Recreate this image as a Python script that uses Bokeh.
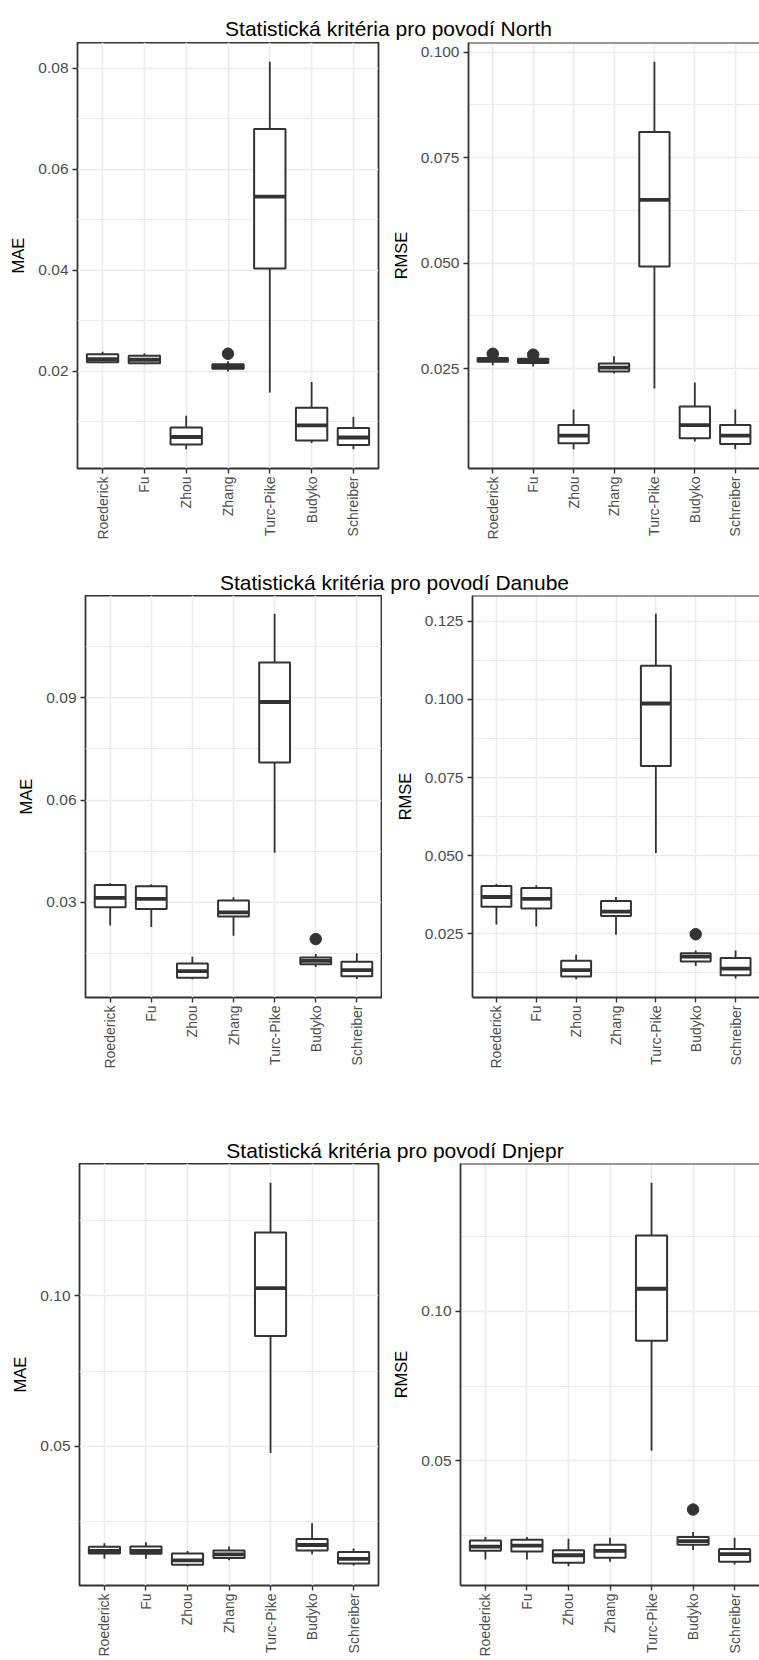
import math
import numpy as np
from bokeh.plotting import figure
from bokeh.layouts import column, row
from bokeh.models import (Range1d, FactorRange, FixedTicker, NumeralTickFormatter,
                          Span, Label, ColumnDataSource)
from bokeh.transform import dodge
from bokeh.embed import file_html
from bokeh.resources import INLINE

# ---------------- data ----------------
CATEGORIES = ["Roederick", "Fu", "Zhou", "Zhang", "Turc-Pike", "Budyko", "Schreiber"]

TITLES = ["Statistická kritéria pro povodí North",
          "Statistická kritéria pro povodí Danube",
          "Statistická kritéria pro povodí Dnjepr"]

# North - MAE
north_mae_lower = [0.0216, 0.0214, 0.0046, 0.0200, 0.0158, 0.0058, 0.0046]
north_mae_q1 = [0.0218, 0.0216, 0.0055, 0.0205, 0.0404, 0.0063, 0.0054]
north_mae_median = [0.0224, 0.0223, 0.0070, 0.0209, 0.0546, 0.0093, 0.0069]
north_mae_q3 = [0.0234, 0.0231, 0.0089, 0.0214, 0.0680, 0.0128, 0.0088]
north_mae_upper = [0.0239, 0.0236, 0.0112, 0.0220, 0.0813, 0.0179, 0.0110]
north_mae_out_cat = ["Zhang"]
north_mae_out_val = [0.0235]

# North - RMSE
north_rmse_lower = [0.0258, 0.0255, 0.0059, 0.0238, 0.0203, 0.0077, 0.0059]
north_rmse_q1 = [0.0266, 0.0263, 0.0073, 0.0243, 0.0492, 0.0085, 0.0071]
north_rmse_median = [0.0270, 0.0268, 0.0091, 0.0252, 0.0650, 0.0116, 0.0091]
north_rmse_q3 = [0.0275, 0.0273, 0.0116, 0.0262, 0.0811, 0.0160, 0.0116]
north_rmse_upper = [0.0276, 0.0274, 0.0153, 0.0279, 0.0977, 0.0217, 0.0153]
north_rmse_out_cat = ["Roederick", "Fu"]
north_rmse_out_val = [0.0285, 0.0283]

# Danube - MAE
danube_mae_lower = [0.0232, 0.0227, 0.0074, 0.0202, 0.0445, 0.0110, 0.0075]
danube_mae_q1 = [0.0285, 0.0280, 0.0078, 0.0258, 0.0710, 0.0118, 0.0083]
danube_mae_median = [0.0313, 0.0310, 0.0098, 0.0270, 0.0888, 0.0128, 0.0101]
danube_mae_q3 = [0.0351, 0.0347, 0.0120, 0.0305, 0.1004, 0.0138, 0.0125]
danube_mae_upper = [0.0356, 0.0353, 0.0140, 0.0315, 0.1147, 0.0148, 0.0150]
danube_mae_out_cat = ["Budyko"]
danube_mae_out_val = [0.0192]

# Danube - RMSE
danube_rmse_lower = [0.0280, 0.0274, 0.0105, 0.0247, 0.0509, 0.0147, 0.0107]
danube_rmse_q1 = [0.0337, 0.0331, 0.0114, 0.0307, 0.0787, 0.0162, 0.0118]
danube_rmse_median = [0.0368, 0.0362, 0.0134, 0.0321, 0.0987, 0.0177, 0.0139]
danube_rmse_q3 = [0.0403, 0.0397, 0.0164, 0.0355, 0.1108, 0.0188, 0.0173]
danube_rmse_upper = [0.0410, 0.0406, 0.0183, 0.0368, 0.1274, 0.0197, 0.0197]
danube_rmse_out_cat = ["Budyko"]
danube_rmse_out_val = [0.0249]

# Dnjepr - MAE
dnjepr_mae_lower = [0.0125, 0.0125, 0.0100, 0.0120, 0.0477, 0.0140, 0.0103]
dnjepr_mae_q1 = [0.0143, 0.0142, 0.0105, 0.0128, 0.0867, 0.0153, 0.0109]
dnjepr_mae_median = [0.0151, 0.0151, 0.0120, 0.0140, 0.1026, 0.0171, 0.0125]
dnjepr_mae_q3 = [0.0165, 0.0166, 0.0143, 0.0153, 0.1211, 0.0191, 0.0148]
dnjepr_mae_upper = [0.0177, 0.0180, 0.0151, 0.0166, 0.1377, 0.0243, 0.0159]
dnjepr_mae_out_cat = []
dnjepr_mae_out_val = []

# Dnjepr - RMSE
dnjepr_rmse_lower = [0.0170, 0.0170, 0.0147, 0.0162, 0.0534, 0.0202, 0.0153]
dnjepr_rmse_q1 = [0.0199, 0.0197, 0.0159, 0.0176, 0.0902, 0.0219, 0.0162]
dnjepr_rmse_median = [0.0213, 0.0216, 0.0184, 0.0199, 0.1076, 0.0231, 0.0188]
dnjepr_rmse_q3 = [0.0233, 0.0236, 0.0201, 0.0219, 0.1254, 0.0245, 0.0205]
dnjepr_rmse_upper = [0.0245, 0.0245, 0.0239, 0.0243, 0.1431, 0.0262, 0.0243]
dnjepr_rmse_out_cat = ["Budyko"]
dnjepr_rmse_out_val = [0.0337]

# y-axis major ticks
north_mae_ticks = [0.02, 0.04, 0.06, 0.08]
north_rmse_ticks = [0.025, 0.050, 0.075, 0.100]
danube_mae_ticks = [0.03, 0.06, 0.09]
danube_rmse_ticks = [0.025, 0.050, 0.075, 0.100, 0.125]
dnjepr_mae_ticks = [0.05, 0.10]
dnjepr_rmse_ticks = [0.05, 0.10]

# ---------------- style ----------------
FONT = "Liberation Sans"
INK = "#333333"
GRID = "#EBEBEB"
TICK_TEXT = "#4D4D4D"


def title_fig(text, h, cx, base_from_top):
    p = figure(width=759, height=h, x_range=Range1d(0, 759), y_range=Range1d(0, h),
               output_backend="svg", toolbar_location=None,
               min_border_left=0, min_border_right=0, min_border_top=0, min_border_bottom=0)
    p.axis.visible = False
    p.grid.visible = False
    p.outline_line_color = None
    p.add_layout(Label(x=cx, y=h - base_from_top, text=text, text_align="center",
                       text_baseline="alphabetic", text_font=FONT,
                       text_font_size="21px", text_color="black"))
    return p


def box_panel(lower, q1, med, q3, upper, out_cat, out_val, ylabel, ticks, fmt,
              width, height, b_left, b_right, b_bottom, open_right):
    lo = min(lower + out_val)
    hi = max(upper + out_val)
    pad = (hi - lo) * 0.05
    y0, y1 = lo - pad, hi + pad

    p = figure(x_range=FactorRange(factors=CATEGORIES, range_padding=0.1,
                                   range_padding_units="absolute"),
               y_range=Range1d(y0, y1), width=width, height=height,
               output_backend="svg", toolbar_location=None,
               min_border_left=b_left, min_border_right=b_right,
               min_border_top=0, min_border_bottom=b_bottom)
    p.background_fill_color = "white"
    p.border_fill_color = "white"

    step = ticks[1] - ticks[0]
    minors = [float(v) for v in np.arange(ticks[0] - step / 2, y1, step) if v > y0]
    p.yaxis.ticker = FixedTicker(ticks=ticks, minor_ticks=minors)
    p.yaxis.formatter = NumeralTickFormatter(format=fmt)
    p.yaxis.axis_label = ylabel
    p.yaxis.axis_label_text_font = FONT
    p.yaxis.axis_label_text_font_size = "16.5px"
    p.yaxis.axis_label_text_font_style = "normal"
    p.yaxis.axis_label_text_color = "black"
    p.yaxis.axis_label_standoff = 8

    p.axis.major_label_text_font = FONT
    p.axis.major_label_text_color = TICK_TEXT
    p.yaxis.major_label_text_font_size = "15.5px"
    p.xaxis.major_label_text_font_size = "14px"
    p.axis.major_tick_line_color = INK
    p.axis.major_tick_line_width = 1.4
    p.axis.major_tick_out = 5
    p.axis.major_tick_in = 0
    p.axis.minor_tick_line_color = None
    p.yaxis.major_label_standoff = 4
    p.xaxis.major_label_standoff = 3
    p.xaxis.major_label_orientation = math.pi / 2

    p.xgrid.grid_line_color = GRID
    p.xgrid.grid_line_width = 1.6
    p.ygrid.grid_line_color = GRID
    p.ygrid.grid_line_width = 1.6
    p.ygrid.minor_grid_line_color = GRID
    p.ygrid.minor_grid_line_width = 1.1

    if open_right:
        p.outline_line_color = None
        p.axis.axis_line_color = INK
        p.axis.axis_line_width = 1.8
        p.add_layout(Span(location=y1, dimension="width", line_color=INK, line_width=1.8))
    else:
        p.outline_line_color = INK
        p.outline_line_width = 1.8
        p.outline_line_alpha = 1.0
        p.axis.axis_line_color = None

    src = ColumnDataSource(dict(cat=CATEGORIES, lower=lower, q1=q1, med=med, q3=q3, upper=upper))
    p.segment(x0="cat", y0="q3", x1="cat", y1="upper", source=src, line_color=INK, line_width=1.8)
    p.segment(x0="cat", y0="lower", x1="cat", y1="q1", source=src, line_color=INK, line_width=1.8)
    p.vbar(x="cat", top="q3", bottom="q1", width=0.75, source=src,
           fill_color="white", line_color=INK, line_width=2.0)
    p.segment(x0=dodge("cat", -0.375, range=p.x_range), y0="med",
              x1=dodge("cat", 0.375, range=p.x_range), y1="med",
              source=src, line_color=INK, line_width=3.8, line_cap="butt")
    if out_cat:
        p.scatter(x=out_cat, y=out_val, size=11.5, color=INK)
    return p


t1 = title_fig(TITLES[0], 42, 388, 28.2)
p1 = box_panel(north_mae_lower, north_mae_q1, north_mae_median, north_mae_q3, north_mae_upper,
               north_mae_out_cat, north_mae_out_val, "MAE", north_mae_ticks, "0.00",
               380, 513, 77, 2, 87, False)
p2 = box_panel(north_rmse_lower, north_rmse_q1, north_rmse_median, north_rmse_q3, north_rmse_upper,
               north_rmse_out_cat, north_rmse_out_val, "RMSE", north_rmse_ticks, "0.000",
               379, 513, 88, 0, 87, True)

t2 = title_fig(TITLES[1], 40, 394, 26.7)
p3 = box_panel(danube_mae_lower, danube_mae_q1, danube_mae_median, danube_mae_q3, danube_mae_upper,
               danube_mae_out_cat, danube_mae_out_val, "MAE", danube_mae_ticks, "0.00",
               382, 528, 85, 1, 126, False)
p4 = box_panel(danube_rmse_lower, danube_rmse_q1, danube_rmse_median, danube_rmse_q3, danube_rmse_upper,
               danube_rmse_out_cat, danube_rmse_out_val, "RMSE", danube_rmse_ticks, "0.000",
               377, 528, 90, 0, 126, True)

t3 = title_fig(TITLES[2], 40, 394.5, 27)
p5 = box_panel(dnjepr_mae_lower, dnjepr_mae_q1, dnjepr_mae_median, dnjepr_mae_q3, dnjepr_mae_upper,
               dnjepr_mae_out_cat, dnjepr_mae_out_val, "MAE", dnjepr_mae_ticks, "0.00",
               380, 496, 79, 2, 72, False)
p6 = box_panel(dnjepr_rmse_lower, dnjepr_rmse_q1, dnjepr_rmse_median, dnjepr_rmse_q3, dnjepr_rmse_upper,
               dnjepr_rmse_out_cat, dnjepr_rmse_out_val, "RMSE", dnjepr_rmse_ticks, "0.00",
               379, 496, 80, 0, 72, True)

layout = column(t1, row(p1, p2), t2, row(p3, p4), t3, row(p5, p6))

open("out.html", "w").write(file_html(layout, INLINE))
